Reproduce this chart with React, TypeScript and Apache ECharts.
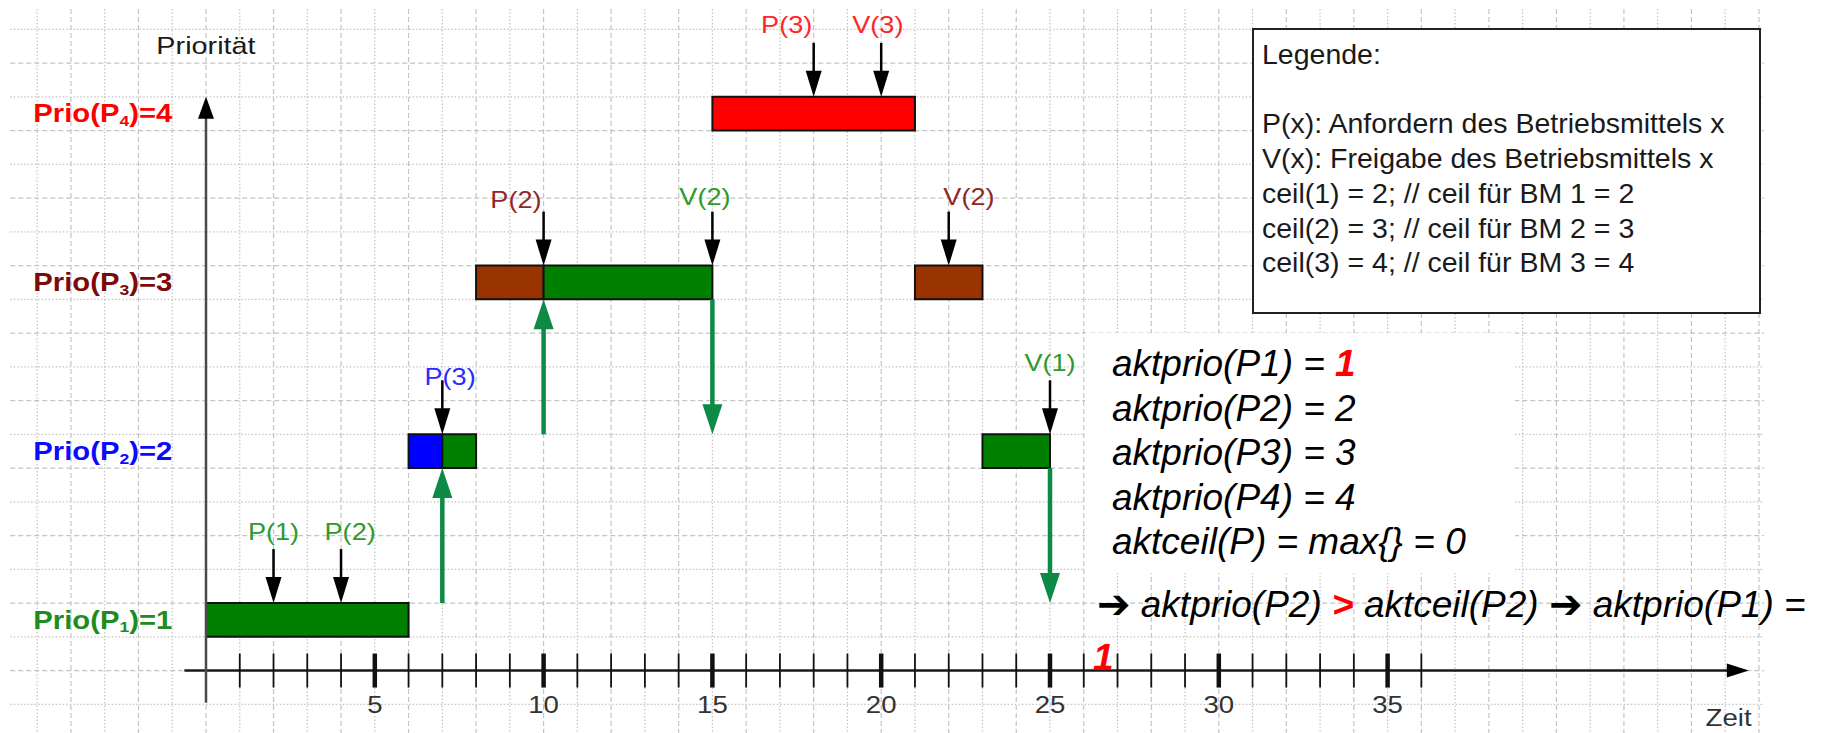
import React, { useEffect, useRef } from 'react';
import * as echarts from 'echarts';

// ---------- data ----------
const priorityLevels = [1, 2, 3, 4];
const priorityProcesses = ['P1', 'P2', 'P3', 'P4'];

// executed time slices (start, end, priority level, running process)
const segmentStart = [0, 6, 7, 8, 10, 15, 21, 23];
const segmentEnd = [6, 7, 8, 10, 15, 21, 23, 25];
const segmentLevel = [1, 2, 2, 3, 3, 4, 3, 2];
const segmentProcess = ['P1', 'P2', 'P1', 'P3', 'P1', 'P4', 'P3', 'P1'];

// P/V operations (black arrows)
const eventNames = ['P(1)', 'P(2)', 'P(3)', 'P(2)', 'V(2)', 'P(3)', 'V(3)', 'V(2)', 'V(1)'];
const eventTime = [2, 4, 7, 10, 15, 18, 20, 22, 25];
const eventLevel = [1, 1, 2, 3, 3, 4, 4, 3, 2];
const eventProcess = ['P1', 'P1', 'P2', 'P3', 'P1', 'P4', 'P4', 'P3', 'P1'];

// priority changes of P1 (green arrows)
const changeTime = [7, 10, 15, 25];
const changeFrom = [1, 2, 3, 2];
const changeTo = [2, 3, 2, 1];

// time axis
const timeTicks = [1, 2, 3, 4, 5, 6, 7, 8, 9, 10, 11, 12, 13, 14, 15, 16, 17, 18, 19, 20, 21, 22, 23, 24, 25, 26, 27, 28, 29, 30, 31, 32, 33, 34, 35, 36];
const timeTickLabels = ['5', '10', '15', '20', '25', '30', '35'];
const yAxisName = 'Priorität';
const xAxisName = 'Zeit';

// legend box
const legendTitle = 'Legende:';
const legendLines = [
  'P(x): Anfordern des Betriebsmittels x',
  'V(x): Freigabe des Betriebsmittels x',
  'ceil(1) = 2; // ceil für BM 1 = 2',
  'ceil(2) = 3; // ceil für BM 2 = 3',
  'ceil(3) = 4; // ceil für BM 3 = 4',
];

// state text
const aktprioProcesses = ['P1', 'P2', 'P3', 'P4'];
const aktprioValues = ['1', '2', '3', '4'];
const aktceilText = 'aktceil(P) = max{} = 0';

// ---------- layout / styles ----------
const U = 33.76;
const X0 = 206;
const Y0 = 670.8;
const X_MIN = -5.8;
const X_MAX = 46.15;
const Y_MIN = -1.85;
const Y_MAX = 19.6;

const FONT = '"Liberation Sans", Arial, sans-serif';
const processFill: Record<string, string> = { P1: '#008000', P2: '#0000ff', P3: '#993300', P4: '#ff0000' };
const processLabel: Record<string, string> = { P1: '#2e9a2e', P2: '#2b2bff', P3: '#8c2828', P4: '#ff2626' };
const prioLabelColor: Record<string, string> = { P1: '#1e8c1e', P2: '#0a0aff', P3: '#7d0a0a', P4: '#ff0000' };
const eventLabelShiftX = [0, 0.27, 0.23, -0.82, -0.22, -0.8, -0.1, 0.6, 0];
const eventLabelShiftY = [2.11, 2.11, 1.7, 1.96, 2.05, 2.15, 2.15, 2.05, 2.13];

const rowBottom = (level: number) => 1 + (level - 1) * 5;

const gridXs: number[] = [];
for (let v = -5; v <= 46; v++) gridXs.push(v);
const gridYs: number[] = [];
for (let v = -1; v <= 19; v++) gridYs.push(v);

const GRID_COLOR = '#c4c4c4';

function buildOption(): any {
  const series: any[] = [];

  series.push({
    type: 'custom', coordinateSystem: 'cartesian2d', silent: true, z: 1, clip: false,
    encode: { x: 0, y: 1 },
    data: gridXs.map((v) => [v, 0]),
    renderItem: (params: any, api: any) => {
      const v = api.value(0);
      const a = api.coord([v, Y_MAX]);
      const b = api.coord([v, Y_MIN]);
      return {
        type: 'line',
        shape: { x1: a[0], y1: a[1], x2: b[0], y2: b[1] },
        style: { stroke: GRID_COLOR, lineWidth: 1.2, lineDash: v % 2 === 0 ? [5, 3] : [1.5, 2] },
      };
    },
  });

  series.push({
    type: 'custom', coordinateSystem: 'cartesian2d', silent: true, z: 1, clip: false,
    encode: { x: 0, y: 1 },
    data: gridYs.map((v) => [0, v]),
    renderItem: (params: any, api: any) => {
      const v = api.value(1);
      const a = api.coord([X_MIN, v]);
      const b = api.coord([X_MAX, v]);
      return {
        type: 'line',
        shape: { x1: a[0], y1: a[1], x2: b[0], y2: b[1] },
        style: { stroke: GRID_COLOR, lineWidth: 1.2, lineDash: v % 2 === 0 ? [5, 3] : [1.5, 2] },
      };
    },
  });

  // bars
  series.push({
    type: 'custom', coordinateSystem: 'cartesian2d', silent: true, z: 3, clip: false,
    encode: { x: [0, 1], y: 2 },
    data: segmentStart.map((s, i) => [s, segmentEnd[i], segmentLevel[i]]),
    renderItem: (params: any, api: any) => {
      const s = api.value(0);
      const e = api.value(1);
      const lv = api.value(2);
      const b = rowBottom(lv);
      const p1 = api.coord([s, b + 1]);
      const p2 = api.coord([e, b]);
      return {
        type: 'rect',
        shape: { x: p1[0], y: p1[1], width: p2[0] - p1[0], height: p2[1] - p1[1] },
        style: { fill: processFill[segmentProcess[params.dataIndex]], stroke: '#111', lineWidth: 2 },
      };
    },
  });

  // axes
  series.push({
    type: 'custom', coordinateSystem: 'cartesian2d', silent: true, z: 4, clip: false,
    encode: { x: 0, y: 1 },
    data: [[0, 0]],
    renderItem: (params: any, api: any) => {
      const xs = api.coord([-0.64, 0]);
      const xt = api.coord([45.7, 0]);
      const ys = api.coord([0, -0.95]);
      const yt = api.coord([0, 17]);
      const pn = api.coord([-1.47, 18.5]);
      const zn = api.coord([45.1, -1.4]);
      return {
        type: 'group',
        children: [
          { type: 'line', shape: { x1: xs[0], y1: xs[1], x2: xt[0] - 18, y2: xt[1] }, style: { stroke: '#1a1a1a', lineWidth: 2.5 } },
          { type: 'polygon', shape: { points: [[xt[0], xt[1]], [xt[0] - 22, xt[1] - 7], [xt[0] - 22, xt[1] + 7]] }, style: { fill: '#000' } },
          { type: 'line', shape: { x1: ys[0], y1: ys[1], x2: yt[0], y2: yt[1] + 18 }, style: { stroke: '#4a4a4a', lineWidth: 2.5 } },
          { type: 'polygon', shape: { points: [[yt[0], yt[1]], [yt[0] - 8, yt[1] + 22], [yt[0] + 8, yt[1] + 22]] }, style: { fill: '#000' } },
          { type: 'text', x: pn[0], y: pn[1], scaleX: 1.2, style: { text: yAxisName, fill: '#1a1a1a', fontSize: 24, fontFamily: FONT, align: 'left', verticalAlign: 'middle' } },
          { type: 'text', x: zn[0], y: zn[1], scaleX: 1.15, style: { text: xAxisName, fill: '#333', fontSize: 24, fontFamily: FONT, align: 'center', verticalAlign: 'middle' } },
        ],
      };
    },
  });

  // ticks
  series.push({
    type: 'custom', coordinateSystem: 'cartesian2d', silent: true, z: 4, clip: false,
    encode: { x: 0, y: 1 },
    data: timeTicks.map((t) => [t, 0]),
    renderItem: (params: any, api: any) => {
      const t = api.value(0);
      const p = api.coord([t, 0]);
      const major = t % 5 === 0;
      return {
        type: 'line',
        shape: { x1: p[0], y1: p[1] - 17, x2: p[0], y2: p[1] + 17 },
        style: { stroke: '#111', lineWidth: major ? 4.5 : 1.8 },
      };
    },
  });

  // tick labels
  series.push({
    type: 'custom', coordinateSystem: 'cartesian2d', silent: true, z: 4, clip: false,
    encode: { x: 0, y: 1 },
    data: timeTickLabels.map((l) => [Number(l), 0]),
    renderItem: (params: any, api: any) => {
      const p = api.coord([api.value(0), 0]);
      return {
        type: 'text', x: p[0], y: p[1] + 34, scaleX: 1.15,
        style: { text: timeTickLabels[params.dataIndex], fill: '#333', fontSize: 24, fontFamily: FONT, align: 'center', verticalAlign: 'middle' },
      };
    },
  });

  // green priority-change arrows
  series.push({
    type: 'custom', coordinateSystem: 'cartesian2d', silent: true, z: 5, clip: false,
    encode: { x: 0, y: [1, 2] },
    data: changeTime.map((t, i) => [t, changeFrom[i], changeTo[i]]),
    renderItem: (params: any, api: any) => {
      const t = api.value(0);
      const from = api.value(1);
      const to = api.value(2);
      const up = to > from;
      const s = api.coord([t, up ? rowBottom(from) + 1 : rowBottom(from)]);
      const e = api.coord([t, up ? rowBottom(to) : rowBottom(to) + 1]);
      const dir = up ? -1 : 1;
      const L = 30;
      const W = 10;
      const col = '#0d8a45';
      return {
        type: 'group',
        children: [
          { type: 'line', shape: { x1: s[0], y1: s[1], x2: e[0], y2: e[1] - dir * (L - 4) }, style: { stroke: col, lineWidth: 4.5 } },
          { type: 'polygon', shape: { points: [[e[0], e[1]], [e[0] - W, e[1] - dir * L], [e[0] + W, e[1] - dir * L]] }, style: { fill: col } },
        ],
      };
    },
  });

  // black event arrows with labels
  series.push({
    type: 'custom', coordinateSystem: 'cartesian2d', silent: true, z: 6, clip: false,
    encode: { x: 0, y: 1 },
    data: eventTime.map((t, i) => [t, eventLevel[i]]),
    renderItem: (params: any, api: any) => {
      const i = params.dataIndex;
      const t = api.value(0);
      const top = rowBottom(api.value(1)) + 1;
      const tip = api.coord([t, top]);
      const st = api.coord([t, top + 1.6]);
      const lp = api.coord([t + eventLabelShiftX[i], top + eventLabelShiftY[i]]);
      return {
        type: 'group',
        children: [
          { type: 'text', x: lp[0], y: lp[1], scaleX: 1.18, style: { text: eventNames[i], fill: processLabel[eventProcess[i]], fontSize: 23, fontFamily: FONT, align: 'center', verticalAlign: 'middle' } },
          { type: 'line', shape: { x1: st[0], y1: st[1], x2: tip[0], y2: tip[1] - 24 }, style: { stroke: '#000', lineWidth: 2.5 } },
          { type: 'polygon', shape: { points: [[tip[0], tip[1]], [tip[0] - 8, tip[1] - 26], [tip[0] + 8, tip[1] - 26]] }, style: { fill: '#000' } },
        ],
      };
    },
  });

  // priority labels on the left
  series.push({
    type: 'custom', coordinateSystem: 'cartesian2d', silent: true, z: 6, clip: false,
    encode: { x: 0, y: 1 },
    data: priorityLevels.map((l) => [-1, l]),
    renderItem: (params: any, api: any) => {
      const lv = api.value(1);
      const proc = priorityProcesses[params.dataIndex];
      const col = prioLabelColor[proc];
      const p = api.coord([-1.0, rowBottom(lv) + 0.5]);
      return {
        type: 'text', x: p[0], y: p[1], scaleX: 1.17,
        style: {
          text: `{b|Prio(P}{s|${lv}}{b|)=${lv}}`,
          align: 'right', verticalAlign: 'middle',
          rich: {
            b: { fontSize: 25, fontWeight: 'bold', fontFamily: FONT, fill: col, lineHeight: 30 },
            s: { fontSize: 15, fontWeight: 'bold', fontFamily: FONT, fill: col, lineHeight: 30, padding: [14, 0, 0, 0] },
          },
        },
      };
    },
  });

  // ---------- graphic: legend & state text ----------
  const elements: any[] = [];
  elements.push({ type: 'rect', z: 100, shape: { x: 1253, y: 29, width: 507, height: 284 }, style: { fill: '#fff', stroke: '#222', lineWidth: 2 } });
  elements.push({ type: 'text', z: 101, x: 1262, y: 54, style: { text: legendTitle, fill: '#1a1a1a', fontSize: 28.5, fontFamily: FONT, align: 'left', verticalAlign: 'middle' } });
  const legendY = [123, 158, 193, 228, 262];
  legendLines.forEach((l, i) => {
    elements.push({ type: 'text', z: 101, x: 1262, y: legendY[i], style: { text: l, fill: '#1a1a1a', fontSize: 28.5, fontFamily: FONT, align: 'left', verticalAlign: 'middle' } });
  });

  elements.push({ type: 'rect', z: 100, shape: { x: 1085, y: 333, width: 430, height: 240 }, style: { fill: '#fff' } });
  const richN = { fontSize: 37, fontStyle: 'italic', fontFamily: FONT, fill: '#000' };
  const richR = { fontSize: 37, fontStyle: 'italic', fontWeight: 'bold', fontFamily: FONT, fill: '#ff0000' };
  const richA = { fontSize: 40, fontWeight: 'bold', fontFamily: '"DejaVu Sans", sans-serif', fill: '#000' };
  const lineY = [363.5, 408, 452.5, 497, 541.5];
  aktprioProcesses.forEach((p, i) => {
    const valueTag = i === 0 ? 'r' : 'n';
    elements.push({
      type: 'text', z: 101, x: 1112, y: lineY[i],
      style: { text: `{n|aktprio(${p}) = }{${valueTag}|${aktprioValues[i]}}`, rich: { n: richN, r: richR }, align: 'left', verticalAlign: 'middle' },
    });
  });
  elements.push({
    type: 'text', z: 101, x: 1112, y: lineY[4],
    style: { text: aktceilText, fontSize: 37, fontStyle: 'italic', fontFamily: FONT, fill: '#000', align: 'left', verticalAlign: 'middle' },
  });
  elements.push({
    type: 'text', z: 101, x: 1097, y: 604,
    style: {
      text: '{a|➔}{n| aktprio(P2) }{r|>}{n| aktceil(P2) }{a|➔}{n| aktprio(P1) =}',
      rich: { n: richN, r: richR, a: richA }, align: 'left', verticalAlign: 'middle',
    },
  });
  elements.push({
    type: 'text', z: 101, x: 1093, y: 657,
    style: { text: '1', fontSize: 37, fontStyle: 'italic', fontWeight: 'bold', fontFamily: FONT, fill: '#ff0000', align: 'left', verticalAlign: 'middle' },
  });

  return {
    animation: false,
    backgroundColor: '#ffffff',
    grid: {
      left: X0 + X_MIN * U,
      top: Y0 - Y_MAX * U,
      width: (X_MAX - X_MIN) * U,
      height: (Y_MAX - Y_MIN) * U,
      show: false,
    },
    xAxis: { type: 'value', min: X_MIN, max: X_MAX, show: false },
    yAxis: { type: 'value', min: Y_MIN, max: Y_MAX, show: false },
    series,
    graphic: { elements },
  };
}

export default function App() {
  const ref = useRef<HTMLDivElement>(null);
  useEffect(() => {
    if (!ref.current) return;
    const chart = echarts.init(ref.current, null, { renderer: 'svg' });
    chart.setOption(buildOption());
    return () => chart.dispose();
  }, []);
  return (
    <div
      ref={ref}
      style={{ position: 'absolute', left: 0, top: 0, width: 1829, height: 733, background: '#fff' }}
    />
  );
}
